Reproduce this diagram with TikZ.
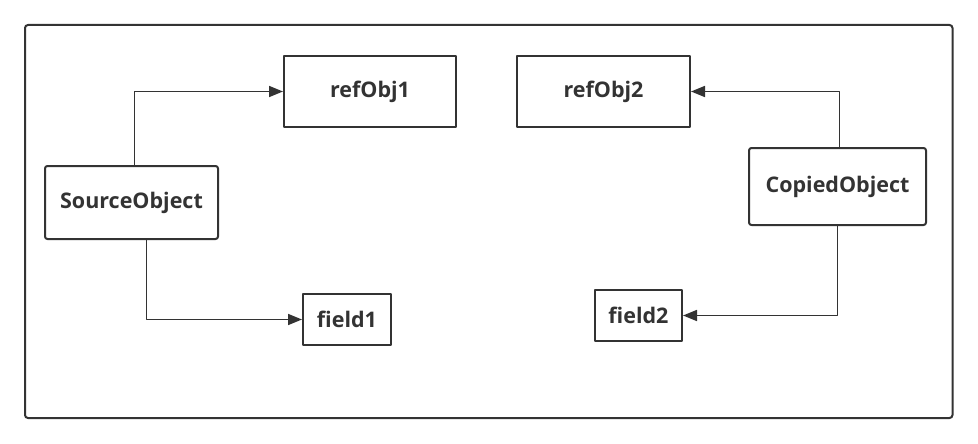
\documentclass[tikz,border=0pt]{standalone}
\usepackage{fontspec}
\setmainfont{Open Sans}
\usetikzlibrary{arrows.meta}
\begin{document}
\begin{tikzpicture}[x=1pt, y=-1pt, line join=round, >={Triangle[length=14pt,width=11pt]},
		font=\bfseries\fontsize{21.5}{26}\selectfont, text=black!80]
		\tikzset{box/.style={draw=black!80, line width=2pt, inner sep=0pt, anchor=north west},
			obj/.style={box, rounded corners=2.5pt},
			arr/.style={->, draw=black!80, line width=1.7pt}}
		\useasboundingbox (0,0) rectangle (978,444);
		\draw[black!80, line width=2pt, rounded corners=3pt] (25,25) rectangle (952.5,418);
		% left side
		\node[box, minimum width=172pt, minimum height=71pt] (ref1) at (283,55) {refObj1};
		\node[obj, minimum width=173pt, minimum height=73pt] (src) at (44,165) {SourceObject};
		\node[box, minimum width=88pt, minimum height=51pt] (fld1) at (302,293) {field1};
		% right side
		\node[box, minimum width=173pt, minimum height=71pt] (ref2) at (516,55) {refObj2};
		\node[obj, minimum width=177pt, minimum height=77pt] (cpy) at (748,147) {CopiedObject};
		\node[box, minimum width=87pt, minimum height=51pt] (fld2) at (594,289) {field2};
		\draw[arr] ([xshift=3pt]src.north) |- (ref1.west);
		\draw[arr] ([xshift=15pt]src.south) |- (fld1.west);
		\draw[arr] ([xshift=2pt]cpy.north) |- (ref2.east);
		\draw[arr] (cpy.south) |- (fld2.east);
		%	\draw (src) -- (cpy);
	\end{tikzpicture}
\end{document}
